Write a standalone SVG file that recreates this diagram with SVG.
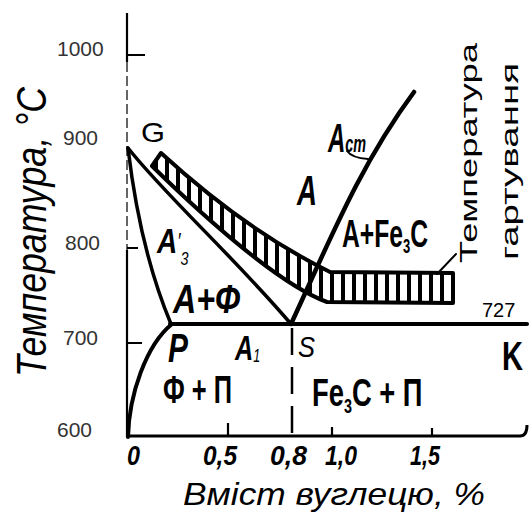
<svg xmlns="http://www.w3.org/2000/svg" width="532" height="514" viewBox="0 0 532 514">
<defs>
<pattern id="hatch" patternUnits="userSpaceOnUse" width="11" height="20">
<rect x="0" y="0" width="4" height="20" fill="#000"/>
</pattern>
<style>
.ax{stroke:#000;stroke-width:2.2;fill:none}
.ln{stroke:#000;fill:none;stroke-linecap:round;stroke-linejoin:round}
.num{font-family:"Liberation Sans",Arial,sans-serif;font-size:21px;fill:#333}
.lbl{font-family:"Liberation Sans",Arial,sans-serif;font-weight:bold;fill:#000}
.it{font-style:italic}
.tk{font-family:"Liberation Sans",Arial,sans-serif;font-weight:bold;font-style:italic;font-size:28px;fill:#000}
.sans{font-family:"Liberation Sans",Arial,sans-serif;fill:#000}
</style>
</defs>
<rect width="532" height="514" fill="#fff"/>
<g id="axes">
<path class="ax" d="M127,13 V62"/>
<path class="ax" d="M127,62 V250" stroke-dasharray="10 4" style="stroke:#555;stroke-width:1.8"/>
<path class="ax" d="M127,250 V437"/>
<path class="ax" style="stroke-width:3" d="M126,436 H520 Q527,436 527,425"/>
<path class="ax" d="M127,55 H145 M127,248 H138 M127,343 H142 M228,436 V423 M332,436 V427 M432,436 V428"/>
</g>
<g id="y-ticks">
<text class="num" x="57" y="56">1000</text>
<text class="num" x="63" y="145">900</text>
<text class="num" x="65" y="250">800</text>
<text class="num" x="63" y="345">700</text>
<text class="num" x="57" y="437">600</text>
</g>
<g id="x-ticks">
<text class="tk" x="127" y="465" textLength="13" lengthAdjust="spacingAndGlyphs">0</text>
<text class="tk" x="203" y="465" textLength="34" lengthAdjust="spacingAndGlyphs">0,5</text>
<text class="tk" x="270" y="465" textLength="37" lengthAdjust="spacingAndGlyphs">0,8</text>
<text class="tk" x="325" y="465" textLength="32" lengthAdjust="spacingAndGlyphs">1,0</text>
<text class="tk" x="410" y="465" textLength="30" lengthAdjust="spacingAndGlyphs">1,5</text>
</g>
<g id="axis-titles">
<text class="sans it" transform="translate(46,377) rotate(-90)" font-size="42" textLength="290" lengthAdjust="spacingAndGlyphs">Температура, °C</text>
<text class="sans it" x="183" y="505" font-size="32" textLength="302" lengthAdjust="spacingAndGlyphs">Вміст вуглецю, %</text>
</g>
<g id="band">
<path d="M161,153 Q245,230 330,272 L453,273 L453,303 L327,302 C280,285 205,218 152,166 Z" fill="url(#hatch)" stroke="#000" stroke-width="4" stroke-linejoin="round"/>
</g>
<g id="connectors">
<path class="ln" stroke-width="4" d="M128,437 C129,395 146,345 172,324"/>
<path class="ln" stroke-width="4" d="M170,324 H527"/>
<path class="ln" stroke-width="3.5" d="M128,148 Q140,250 171,324"/>
<path class="ln" stroke-width="3.5" d="M128,148 C165,195 235,258 291,324"/>
<path class="ln" stroke-width="4.5" d="M291,324 C330,240 360,165 414,92"/>
<path class="ln" stroke-width="2.5" stroke-dasharray="27 12" style="stroke-linecap:butt" d="M292,328 V437"/>
<path class="ln" stroke-width="2" d="M347,151 Q352,158 368,159"/>
<path class="ln" stroke-width="2" d="M437,274 L456,254"/>
</g>
<g id="label-G"><text class="sans" x="141" y="142" font-size="28" textLength="24" lengthAdjust="spacingAndGlyphs">G</text></g>
<g id="label-Acm">
<text class="lbl it" transform="translate(328,152) scale(0.6,1)" font-size="40">A<tspan font-size="24">cm</tspan></text>
</g>
<g id="label-A"><text class="lbl it" x="297" y="205" font-size="42" textLength="20" lengthAdjust="spacingAndGlyphs">A</text></g>
<g id="label-A-Fe3C">
<text class="lbl" transform="translate(342,247) scale(0.65,1)" font-size="38">A+Fe<tspan font-size="20" dy="6">3</tspan><tspan dy="-6">C</tspan></text>
</g>
<g id="label-A3">
<text class="lbl it" transform="translate(157,253) scale(0.8,1)" font-size="35">A<tspan class="sans" font-weight="normal" font-size="22" dy="-5">′</tspan><tspan class="sans" font-weight="normal" font-size="18" dy="17">3</tspan></text>
</g>
<g id="label-A-F"><text class="lbl it" x="173" y="313" font-size="40" textLength="67" lengthAdjust="spacingAndGlyphs">A+Ф</text></g>
<g id="label-P"><text class="lbl it" x="168" y="362" font-size="40" textLength="20" lengthAdjust="spacingAndGlyphs">P</text></g>
<g id="label-A1">
<text class="lbl it" transform="translate(235,360) scale(0.7,1)" font-size="36">A<tspan class="sans" font-weight="normal" font-size="18" dy="2">1</tspan></text>
</g>
<g id="label-S"><text class="sans it" x="298" y="357" font-size="30" textLength="17" lengthAdjust="spacingAndGlyphs">S</text></g>
<g id="label-F-P"><text class="lbl" x="163" y="403" font-size="38" textLength="69" lengthAdjust="spacingAndGlyphs">Ф + П</text></g>
<g id="label-Fe3C-P">
<text class="lbl" transform="translate(312,406) scale(0.72,1)" font-size="38">Fe<tspan font-size="20" dy="7">3</tspan><tspan dy="-7">C + П</tspan></text>
</g>
<g id="label-K"><text class="lbl" x="502" y="370" font-size="40" textLength="21" lengthAdjust="spacingAndGlyphs">K</text></g>
<g id="label-727"><text class="sans" x="482" y="317" font-size="20">727</text></g>
<g id="label-quench">
<text class="sans" transform="translate(477,263) rotate(-90)" font-size="23" textLength="220" lengthAdjust="spacingAndGlyphs">Температура</text>
<text class="sans" transform="translate(518,260) rotate(-90)" font-size="24" textLength="197" lengthAdjust="spacingAndGlyphs">гартування</text>
</g>
</svg>
